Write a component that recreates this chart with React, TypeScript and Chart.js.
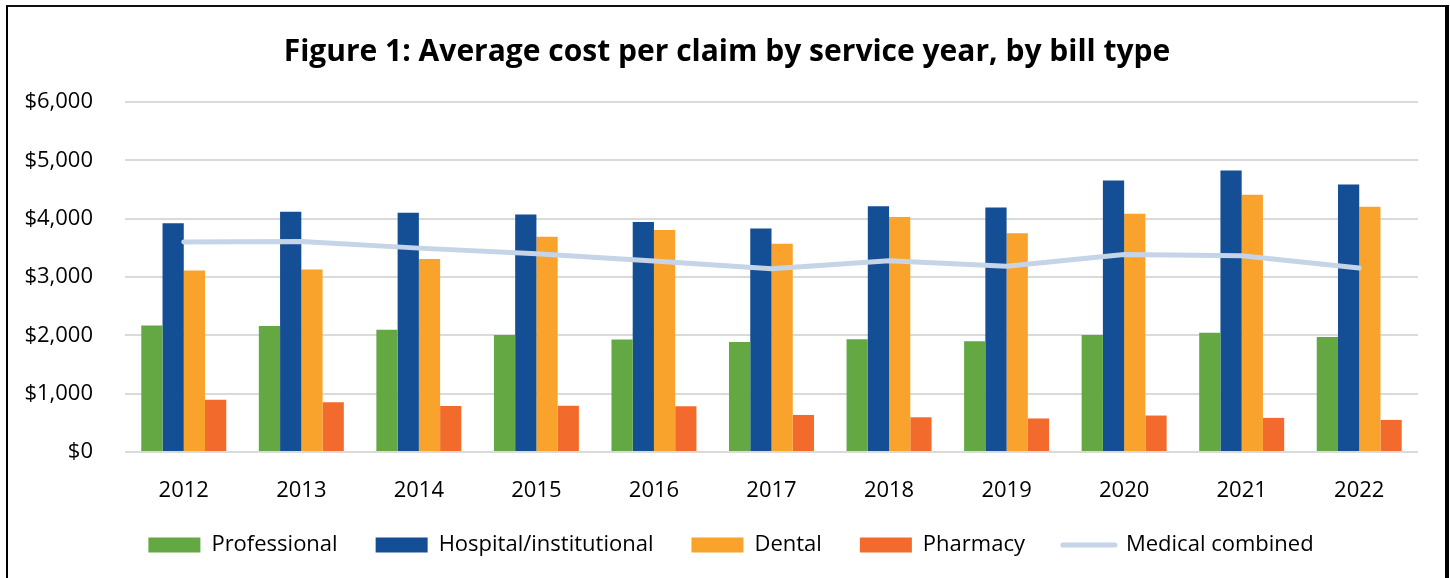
import React, { useEffect, useRef } from "react";
import { Chart, registerables } from "chart.js";

Chart.register(...registerables);

const categories = ["2012", "2013", "2014", "2015", "2016", "2017", "2018", "2019", "2020", "2021", "2022"];
const professional = [2170, 2160, 2095, 2005, 1930, 1885, 1935, 1900, 2005, 2045, 1970];
const hospital = [3920, 4120, 4100, 4070, 3945, 3830, 4215, 4190, 4655, 4825, 4585];
const dental = [3110, 3130, 3310, 3690, 3805, 3570, 4030, 3750, 4085, 4410, 4205];
const pharmacy = [895, 855, 790, 795, 785, 635, 595, 575, 625, 585, 550];
const medicalCombined = [3600, 3610, 3495, 3400, 3275, 3140, 3280, 3185, 3385, 3365, 3155];
const yTicks = [0, 1000, 2000, 3000, 4000, 5000, 6000];

const FONT = "'Open Sans', 'Noto Sans', sans-serif";

const boxShift = {
  id: "boxShift",
  afterLayout(chart: any) {
    if (chart.legend) {
      chart.legend.left += 22;
      chart.legend.right += 22;
      chart.legend.top -= 6;
      chart.legend.bottom -= 6;
    }
    if (chart.titleBlock) {
      chart.titleBlock.left += 18;
      chart.titleBlock.right += 18;
    }
  },
};

export default function App() {
  const ref = useRef<HTMLCanvasElement | null>(null);
  useEffect(() => {
    if (!ref.current) return;
    const bar = (label: string, data: number[], color: string) => ({
      type: "bar" as const,
      label,
      data,
      backgroundColor: color,
      borderWidth: 0,
      categoryPercentage: 0.723,
      barPercentage: 1,
      order: 1,
    });
    const chart = new Chart(ref.current, {
      type: "bar",
      data: {
        labels: categories,
        datasets: [
          bar("Professional", professional, "#64A843"),
          bar("Hospital/institutional", hospital, "#144E94"),
          bar("Dental", dental, "#F9A22C"),
          bar("Pharmacy", pharmacy, "#F26A2C"),
          {
            type: "line" as const,
            label: "Medical combined",
            data: medicalCombined,
            borderColor: "#C5D4E6",
            backgroundColor: "#C5D4E6",
            borderWidth: 5,
            pointRadius: 0,
            tension: 0,
            borderCapStyle: "round",
            borderJoinStyle: "round",
            order: 0,
          } as any,
        ],
      },
      plugins: [boxShift],
      options: {
        responsive: false,
        animation: false,
        layout: { padding: { left: 0, right: 32, top: 0, bottom: 0 } },
        plugins: {
          tooltip: { enabled: false },
          title: {
            display: true,
            text: "Figure 1: Average cost per claim by service year, by bill type",
            color: "#000",
            font: { family: FONT, size: 30, weight: "bold", lineHeight: 1.2 },
            padding: { top: 34, bottom: 32 },
          },
          legend: {
            position: "bottom",
            labels: {
              color: "#000",
              font: { family: FONT, size: 22 },
              padding: 38,
              usePointStyle: true,
              pointStyleWidth: 52,
              boxHeight: 15,
              generateLabels: (c: any) =>
                c.data.datasets.map((ds: any, i: number) => {
                  const isLine = ds.type === "line";
                  return {
                    text: ds.label,
                    fillStyle: isLine ? ds.borderColor : ds.backgroundColor,
                    strokeStyle: isLine ? ds.borderColor : ds.backgroundColor,
                    lineWidth: isLine ? 5 : 0,
                    lineCap: "round",
                    pointStyle: isLine ? "line" : "rect",
                    hidden: false,
                    datasetIndex: i,
                    fontColor: "#000",
                  };
                }),
            },
          },
        },
        scales: {
          x: {
            grid: { display: false },
            border: { display: false },
            afterFit: (s: any) => {
              s.height = 50;
            },
            ticks: {
              color: "#000",
              font: { family: FONT, size: 22, lineHeight: 1 },
              padding: 20,
            },
          },
          y: {
            min: 0,
            max: 6000,
            afterBuildTicks: (s: any) => {
              s.ticks = yTicks.map((v) => ({ value: v }));
            },
            afterFit: (s: any) => {
              s.width = 125;
            },
            grid: { color: "#DADADA", lineWidth: 2, drawTicks: false },
            border: { display: false },
            ticks: {
              color: "#000",
              font: { family: FONT, size: 22 },
              padding: 32,
              callback: (v: any) => "$" + Number(v).toLocaleString("en-US"),
            },
          },
        },
      },
    } as any);
    return () => chart.destroy();
  }, []);

  return (
    <div
      style={{
        position: "fixed",
        left: 0,
        top: 0,
        width: 1450,
        height: 578,
        overflow: "hidden",
        background: "#fff",
      }}
    >
      <canvas
        ref={ref}
        width={1450}
        height={572}
        style={{ position: "absolute", left: 0, top: 0, width: 1450, height: 572 }}
      />
      <div
        style={{
          position: "absolute",
          left: 6,
          top: 5,
          width: 1443,
          height: 700,
          boxSizing: "border-box",
          borderLeft: "2px solid #000",
          borderTop: "2px solid #111",
          borderRight: "4px solid #000",
          pointerEvents: "none",
        }}
      />
    </div>
  );
}
